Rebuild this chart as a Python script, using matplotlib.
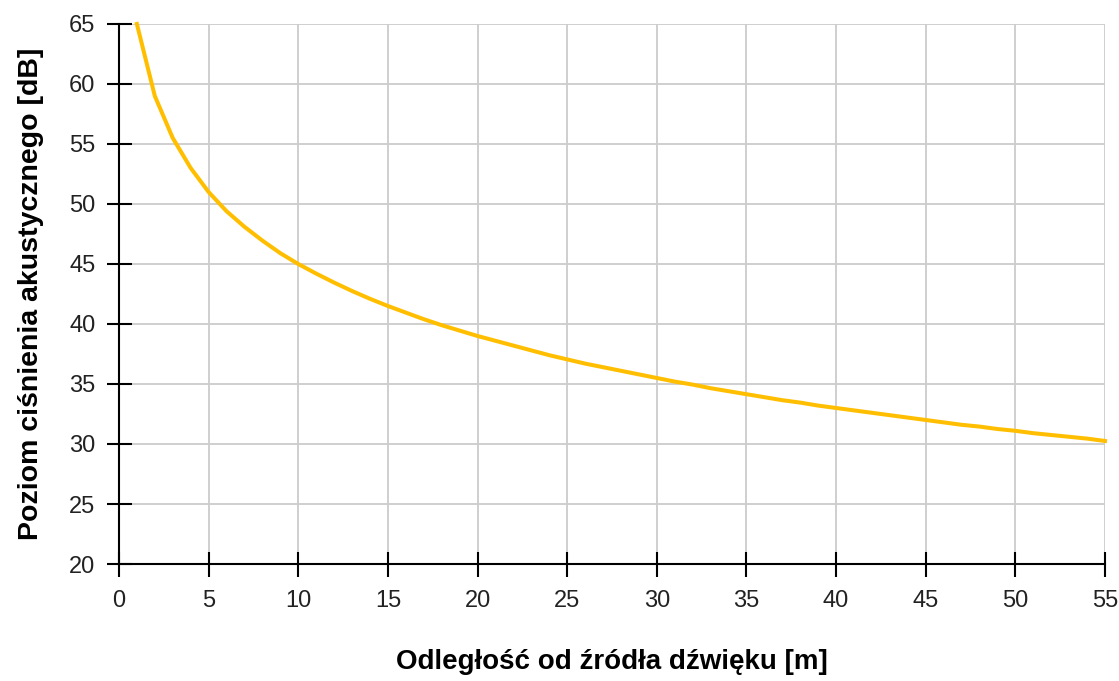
import numpy as np
import matplotlib
matplotlib.use('Agg')
import matplotlib.pyplot as plt

plt.rcParams['font.family'] = ['Liberation Sans', 'DejaVu Sans']

# distance [m] and sound pressure level [dB]
dist = list(range(1, 56))
level = [65, 59, 55.5, 53, 51, 49.4, 48.1, 46.95, 45.9, 45,
         44.2, 43.45, 42.75, 42.1, 41.5, 40.95, 40.4, 39.9, 39.45, 39,
         38.6, 38.2, 37.8, 37.4, 37.05, 36.7, 36.4, 36.1, 35.8, 35.5,
         35.2, 34.95, 34.65, 34.4, 34.15, 33.9, 33.65, 33.45, 33.2, 33,
         32.8, 32.6, 32.4, 32.2, 32.0, 31.8, 31.6, 31.45, 31.25, 31.1,
         30.9, 30.75, 30.6, 30.45, 30.25]
xticks = np.arange(0, 56, 5)
yticks = np.arange(20, 66, 5)

fig = plt.figure(figsize=(11.19, 6.81), dpi=100)
ax = fig.add_axes([0.1063, 0.1718, 0.8812, 0.7930])

ax.plot(dist, level, color='#FFBF00', linewidth=2.9, zorder=3,
        clip_on=False, solid_joinstyle='round')

ax.set_xlim(0, 55)
ax.set_ylim(20, 65)
ax.set_xticks(xticks)
ax.set_yticks(yticks)
ax.grid(True, color='#cccccc', linewidth=1.3)
ax.set_axisbelow(True)

for s in ['top', 'right']:
    ax.spines[s].set_visible(False)
for s in ['left', 'bottom']:
    ax.spines[s].set_color('black')
    ax.spines[s].set_linewidth(1.5)
    ax.spines[s].set_zorder(4)

ax.tick_params(axis='both', direction='inout', length=18, width=1.5,
               color='black', labelsize=17, labelcolor='#222222')
ax.tick_params(axis='x', pad=10)
ax.tick_params(axis='y', pad=8)

ax.set_xlabel('Odległość od źródła dźwięku [m]', fontsize=20,
              fontweight='bold', labelpad=26)
ax.set_ylabel('Poziom ciśnienia akustycznego [dB]', fontsize=20.5,
              fontweight='bold', labelpad=18)

fig.savefig('out.png', dpi=100)
